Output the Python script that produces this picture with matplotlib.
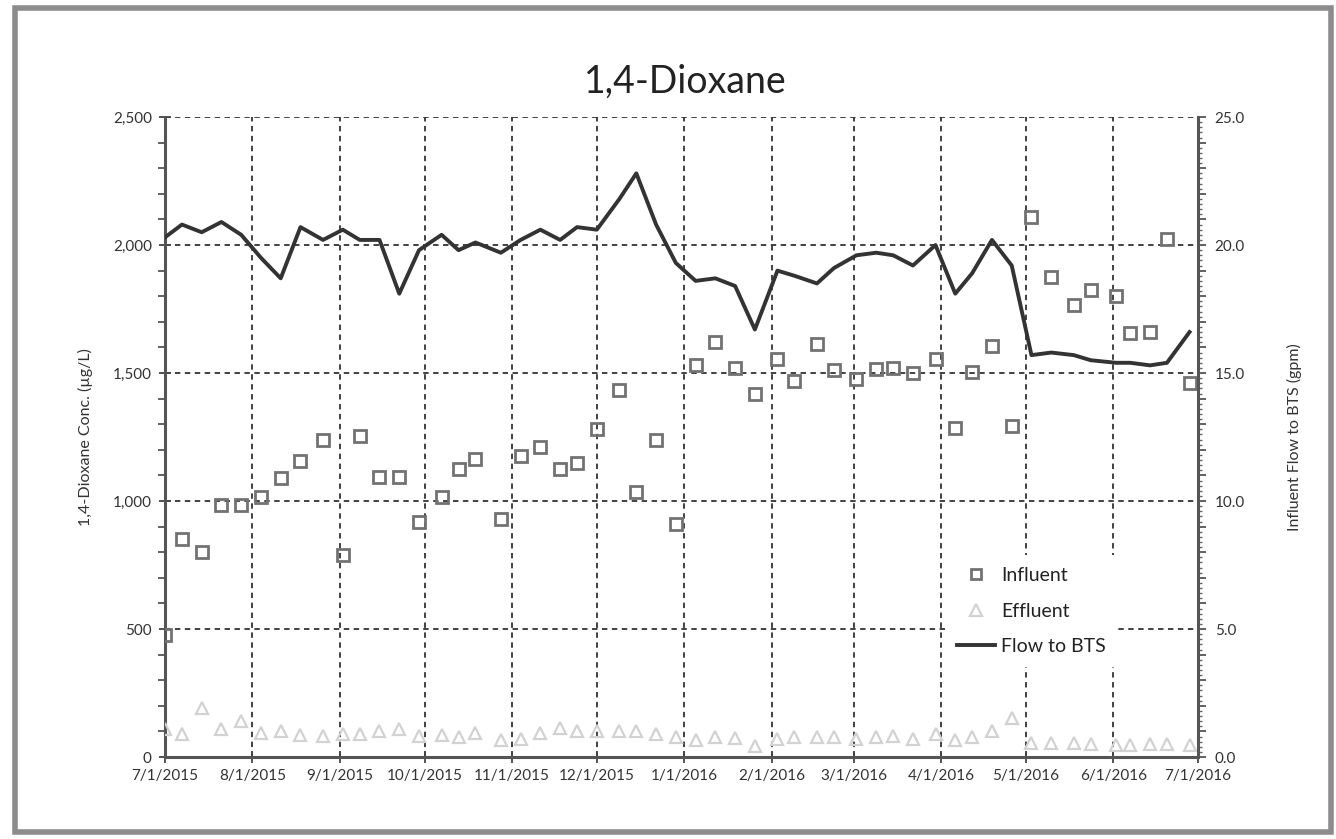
import numpy as np
import matplotlib
matplotlib.use('Agg')
import matplotlib.pyplot as plt
import matplotlib.dates as mdates
import matplotlib.ticker as mticker
import pandas as pd
from matplotlib.patches import Rectangle
from matplotlib.lines import Line2D

plt.rcParams['font.family'] = ['Lato', 'DejaVu Sans']

#%% data
sample_dates = [
    '2015-07-01', '2015-07-07', '2015-07-14', '2015-07-21', '2015-07-28',
    '2015-08-04', '2015-08-11', '2015-08-18', '2015-08-26',
    '2015-09-02', '2015-09-08', '2015-09-15', '2015-09-22', '2015-09-29',
    '2015-10-07', '2015-10-13', '2015-10-19', '2015-10-28',
    '2015-11-04', '2015-11-11', '2015-11-18', '2015-11-24',
    '2015-12-01', '2015-12-09', '2015-12-15', '2015-12-22', '2015-12-29',
    '2016-01-05', '2016-01-12', '2016-01-19', '2016-01-26',
    '2016-02-03', '2016-02-09', '2016-02-17', '2016-02-23',
    '2016-03-02', '2016-03-09', '2016-03-15', '2016-03-22', '2016-03-30',
    '2016-04-06', '2016-04-12', '2016-04-19', '2016-04-26',
    '2016-05-03', '2016-05-10', '2016-05-18', '2016-05-24',
    '2016-06-02', '2016-06-07', '2016-06-14', '2016-06-20', '2016-06-28',
]

influent = [
    475, 850, 800, 985, 985,
    1015, 1090, 1155, 1240,
    790, 1255, 1095, 1095, 920,
    1015, 1125, 1165, 930,
    1175, 1210, 1125, 1150,
    1280, 1435, 1035, 1240, 910,
    1530, 1620, 1520, 1420,
    1555, 1470, 1615, 1510,
    1475, 1515, 1520, 1500, 1555,
    1285, 1505, 1605, 1295,
    2110, 1875, 1765, 1825,
    1800, 1655, 1660, 2025, 1460,
]

effluent = [
    110, 90, 190, 110, 140,
    92, 100, 86, 82,
    90, 90, 100, 110, 83,
    86, 80, 92, 66,
    70, 92, 112, 100,
    100, 100, 100, 91, 80,
    66, 77, 73, 45,
    69, 77, 77, 80,
    69, 77, 82, 69, 90,
    66, 80, 100, 151,
    56, 56, 56, 50,
    48, 48, 50, 50, 48,
]

flow_gpm = [
    20.3, 20.8, 20.5, 20.9, 20.4,
    19.5, 18.7, 20.7, 20.2,
    20.6, 20.2, 20.2, 18.1, 19.8,
    20.4, 19.8, 20.1, 19.7,
    20.2, 20.6, 20.2, 20.7,
    20.6, 21.8, 22.8, 20.8, 19.3,
    18.6, 18.7, 18.4, 16.7,
    19.0, 18.8, 18.5, 19.1,
    19.6, 19.7, 19.6, 19.2, 20.0,
    18.1, 18.9, 20.2, 19.2,
    15.7, 15.8, 15.7, 15.5,
    15.4, 15.4, 15.3, 15.4, 16.6,
]

dates = pd.to_datetime(sample_dates)

#%%
fig = plt.figure(figsize=(13.36, 8.39), dpi=100)
ax = fig.add_axes([0.1235, 0.0977, 0.7732, 0.7628])
ax2 = ax.twinx()

ax.plot(dates, influent, ls='none', marker='s', ms=8, mfc='none', mec='#727272', mew=2.0, zorder=3)
ax.plot(dates, effluent, ls='none', marker='^', ms=9, mfc='none', mec='#d2d2d2', mew=1.6, zorder=3)
ax2.plot(dates, flow_gpm, color='#333333', lw=2.8, solid_joinstyle='round', zorder=3)

ax.set_xlim(pd.Timestamp('2015-07-01'), pd.Timestamp('2016-07-01'))
ax.set_ylim(0, 2500)
ax2.set_ylim(0, 25)

# x axis
ax.xaxis.set_major_locator(mdates.MonthLocator())
ax.xaxis.set_major_formatter(mticker.FuncFormatter(
    lambda v, p: '{d.month}/{d.day}/{d.year}'.format(d=mdates.num2date(v))))

# left axis
ax.yaxis.set_major_locator(mticker.MultipleLocator(500))
ax.yaxis.set_minor_locator(mticker.MultipleLocator(100))
ax.yaxis.set_major_formatter(mticker.StrMethodFormatter('{x:,.0f}'))

# right axis: every 1.0 gets a tick, only multiples of 5 are labelled
ax2.yaxis.set_major_locator(mticker.MultipleLocator(1))
ax2.yaxis.set_minor_locator(mticker.MultipleLocator(0.2))
ax2.yaxis.set_major_formatter(mticker.FuncFormatter(
    lambda v, p: '{:.1f}'.format(v) if abs(v / 5 - round(v / 5)) < 1e-6 else ''))

ax.grid(True, which='major', ls=(0, (3, 2.5)), color='#333333', lw=1.3)
ax.set_axisbelow(True)

for s in ['top', 'right']:
    ax.spines[s].set_visible(False)
for s in ['top', 'left', 'bottom']:
    ax2.spines[s].set_visible(False)
ax.spines['left'].set_color('#555555')
ax.spines['left'].set_linewidth(2.2)
ax.spines['bottom'].set_color('#555555')
ax.spines['bottom'].set_linewidth(2.2)
ax2.spines['right'].set_color('#555555')
ax2.spines['right'].set_linewidth(2.2)

ax.tick_params(axis='x', which='major', direction='inout', length=9, width=1.3,
               color='#444444', labelsize=11, labelcolor='#333333', pad=4)
ax.tick_params(axis='y', which='major', direction='inout', length=9, width=1.3,
               color='#444444', labelsize=11, labelcolor='#333333', pad=5)
ax.tick_params(axis='y', which='minor', direction='out', length=5, width=1.3, color='#555555')
ax2.tick_params(axis='y', which='major', direction='out', length=6, width=1.3,
                color='#555555', labelsize=11, labelcolor='#333333', pad=6)
ax2.tick_params(axis='y', which='minor', direction='out', length=3, width=1.0, color='#666666')

ax.set_ylabel('1,4-Dioxane Conc. (µg/L)', fontsize=11.5, color='#333333', labelpad=14)
ax2.set_ylabel('Influent Flow to BTS (gpm)', fontsize=11.5, color='#333333', labelpad=30)

fig.text(0.513, 0.902, '1,4-Dioxane', ha='center', va='center', fontsize=27, color='#222222')

handles = [
    Line2D([], [], ls='none', marker='s', ms=7, mfc='none', mec='#727272', mew=2.0),
    Line2D([], [], ls='none', marker='^', ms=8, mfc='none', mec='#d2d2d2', mew=1.6),
    Line2D([], [], color='#333333', lw=2.8),
]
leg = ax2.legend(handles, ['Influent', 'Effluent', 'Flow to BTS'],
                 loc='upper left', bbox_to_anchor=(0.755, 0.315), frameon=True,
                 fontsize=14, handlelength=2.0, handletextpad=0.3, labelspacing=0.95,
                 borderpad=0.6, borderaxespad=0)
leg.get_frame().set_facecolor('white')
leg.get_frame().set_edgecolor('none')
leg.get_frame().set_alpha(1)
leg.get_frame().set_boxstyle('square', pad=0)
for t in leg.get_texts():
    t.set_color('#222222')

# outer frame round the chart
fig.patches.append(Rectangle((0.011, 0.008), 0.985, 0.983, transform=fig.transFigure,
                             fill=False, edgecolor='#8c8c8c', lw=4))

fig.savefig('out.png', dpi=100)
